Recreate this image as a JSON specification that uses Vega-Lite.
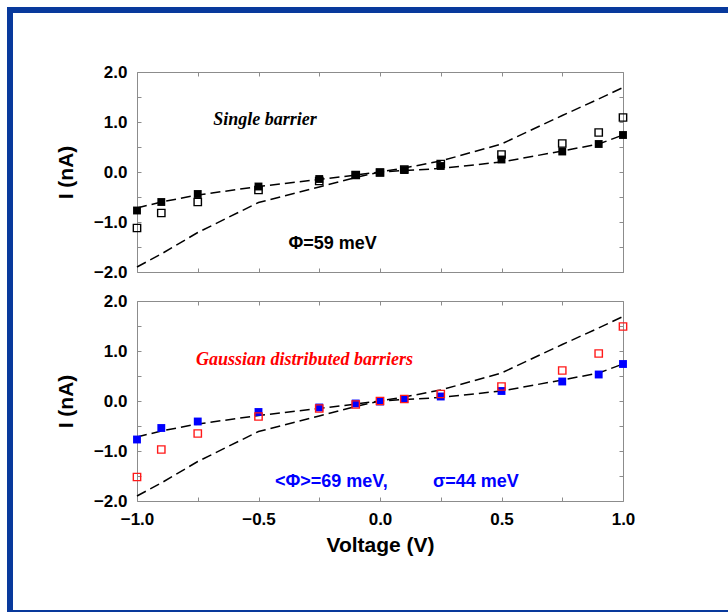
{
  "$schema": "https://vega.github.io/schema/vega-lite/v6.json",
  "padding": {"left": 7, "top": 7, "right": 0, "bottom": 0},
  "autosize": {"type": "pad"},
  "background": "white",
  "spacing": 0,
  "config": {
    "view": {"stroke": "#8c8c8c", "strokeWidth": 1},
    "axis": {
      "labelFont": "Liberation Sans", "labelFontWeight": "bold", "labelFontSize": 17, "labelColor": "black",
      "titleFont": "Liberation Sans", "titleFontWeight": "bold", "titleFontSize": 21, "titleColor": "black",
      "tickColor": "#8c8c8c", "tickWidth": 1, "domain": false, "grid": false, "labelOverlap": false, "labelFlush": false
    }
  },
  "datasets": {
    "curves": [
      {"curve": "A", "v": -1, "I": -0.72}, {"curve": "A", "v": -0.9, "I": -0.6}, {"curve": "A", "v": -0.75, "I": -0.46},
      {"curve": "A", "v": -0.5, "I": -0.29}, {"curve": "A", "v": -0.25, "I": -0.15}, {"curve": "A", "v": -0.1, "I": -0.06},
      {"curve": "A", "v": 0, "I": 0}, {"curve": "A", "v": 0.1, "I": 0.03}, {"curve": "A", "v": 0.25, "I": 0.07},
      {"curve": "A", "v": 0.5, "I": 0.2}, {"curve": "A", "v": 0.75, "I": 0.42}, {"curve": "A", "v": 0.9, "I": 0.56},
      {"curve": "A", "v": 1, "I": 0.74},
      {"curve": "B", "v": -1, "I": -1.9}, {"curve": "B", "v": -0.9, "I": -1.64}, {"curve": "B", "v": -0.75, "I": -1.21},
      {"curve": "B", "v": -0.5, "I": -0.61}, {"curve": "B", "v": -0.25, "I": -0.3}, {"curve": "B", "v": -0.1, "I": -0.11},
      {"curve": "B", "v": 0, "I": 0}, {"curve": "B", "v": 0.1, "I": 0.08}, {"curve": "B", "v": 0.25, "I": 0.22},
      {"curve": "B", "v": 0.5, "I": 0.56}, {"curve": "B", "v": 0.75, "I": 1.13}, {"curve": "B", "v": 0.9, "I": 1.46},
      {"curve": "B", "v": 1, "I": 1.69}
    ],
    "pts": [
      {"panel": "top", "kind": "filled", "v": -1, "I": -0.77}, {"panel": "top", "kind": "filled", "v": -0.9, "I": -0.6},
      {"panel": "top", "kind": "filled", "v": -0.75, "I": -0.44}, {"panel": "top", "kind": "filled", "v": -0.5, "I": -0.29},
      {"panel": "top", "kind": "filled", "v": -0.25, "I": -0.14}, {"panel": "top", "kind": "filled", "v": -0.1, "I": -0.06},
      {"panel": "top", "kind": "filled", "v": 0, "I": -0.01}, {"panel": "top", "kind": "filled", "v": 0.1, "I": 0.04},
      {"panel": "top", "kind": "filled", "v": 0.25, "I": 0.12}, {"panel": "top", "kind": "filled", "v": 0.5, "I": 0.25},
      {"panel": "top", "kind": "filled", "v": 0.75, "I": 0.41}, {"panel": "top", "kind": "filled", "v": 0.9, "I": 0.56},
      {"panel": "top", "kind": "filled", "v": 1, "I": 0.74},
      {"panel": "top", "kind": "open", "v": -1, "I": -1.12}, {"panel": "top", "kind": "open", "v": -0.9, "I": -0.82},
      {"panel": "top", "kind": "open", "v": -0.75, "I": -0.6}, {"panel": "top", "kind": "open", "v": -0.5, "I": -0.36},
      {"panel": "top", "kind": "open", "v": -0.25, "I": -0.18}, {"panel": "top", "kind": "open", "v": -0.1, "I": -0.06},
      {"panel": "top", "kind": "open", "v": 0, "I": -0.01}, {"panel": "top", "kind": "open", "v": 0.1, "I": 0.05},
      {"panel": "top", "kind": "open", "v": 0.25, "I": 0.16}, {"panel": "top", "kind": "open", "v": 0.5, "I": 0.35},
      {"panel": "top", "kind": "open", "v": 0.75, "I": 0.57}, {"panel": "top", "kind": "open", "v": 0.9, "I": 0.79},
      {"panel": "top", "kind": "open", "v": 1, "I": 1.09},
      {"panel": "bottom", "kind": "filled", "v": -1, "I": -0.77}, {"panel": "bottom", "kind": "filled", "v": -0.9, "I": -0.54},
      {"panel": "bottom", "kind": "filled", "v": -0.75, "I": -0.41}, {"panel": "bottom", "kind": "filled", "v": -0.5, "I": -0.22},
      {"panel": "bottom", "kind": "filled", "v": -0.25, "I": -0.13}, {"panel": "bottom", "kind": "filled", "v": -0.1, "I": -0.05},
      {"panel": "bottom", "kind": "filled", "v": 0, "I": -0.01}, {"panel": "bottom", "kind": "filled", "v": 0.1, "I": 0.04},
      {"panel": "bottom", "kind": "filled", "v": 0.25, "I": 0.09}, {"panel": "bottom", "kind": "filled", "v": 0.5, "I": 0.2},
      {"panel": "bottom", "kind": "filled", "v": 0.75, "I": 0.39}, {"panel": "bottom", "kind": "filled", "v": 0.9, "I": 0.53},
      {"panel": "bottom", "kind": "filled", "v": 1, "I": 0.74},
      {"panel": "bottom", "kind": "open", "v": -1, "I": -1.52}, {"panel": "bottom", "kind": "open", "v": -0.9, "I": -0.97},
      {"panel": "bottom", "kind": "open", "v": -0.75, "I": -0.65}, {"panel": "bottom", "kind": "open", "v": -0.5, "I": -0.31},
      {"panel": "bottom", "kind": "open", "v": -0.25, "I": -0.15}, {"panel": "bottom", "kind": "open", "v": -0.1, "I": -0.07},
      {"panel": "bottom", "kind": "open", "v": 0, "I": 0}, {"panel": "bottom", "kind": "open", "v": 0.1, "I": 0.04},
      {"panel": "bottom", "kind": "open", "v": 0.25, "I": 0.14}, {"panel": "bottom", "kind": "open", "v": 0.5, "I": 0.29},
      {"panel": "bottom", "kind": "open", "v": 0.75, "I": 0.61}, {"panel": "bottom", "kind": "open", "v": 0.9, "I": 0.95},
      {"panel": "bottom", "kind": "open", "v": 1, "I": 1.49}
    ],
    "notes": [
      {"panel": "top", "style": "serif", "text": "Single barrier", "v": -0.686, "I": 0.946},
      {"panel": "top", "style": "sans", "text": "Φ=59 meV", "v": -0.377, "I": -1.54},
      {"panel": "bottom", "style": "serif", "text": "Gaussian distributed barriers", "v": -0.757, "I": 0.726},
      {"panel": "bottom", "style": "sans", "text": "<Φ>=69 meV,", "v": -0.432, "I": -1.72},
      {"panel": "bottom", "style": "sans", "text": "σ=44 meV", "v": 0.218, "I": -1.72}
    ]
  },
  "vconcat": [
    {"width": 721, "height": 6, "view": {"fill": "#08399c", "stroke": null}, "data": {"values": []}, "mark": {"type": "rule"}, "encoding": {}},
    {
      "spacing": 41,
      "hconcat": [
        {"width": 6, "height": 597, "view": {"fill": "#08399c", "stroke": null}, "data": {"values": []}, "mark": {"type": "rule"}, "encoding": {}},
        {
          "spacing": 48,
          "vconcat": [
            {"width": 486, "height": 1, "view": {"stroke": null}, "data": {"values": []}, "mark": {"type": "rule"}, "encoding": {}},
            {
              "spacing": 10,
              "vconcat": [
                {
                  "width": 486, "height": 200,
                  "resolve": {"axis": {"x": "independent", "y": "independent"}},
                  "layer": [
                    {
                      "data": {"name": "curves"},
                      "mark": {"type": "line", "color": "black", "strokeDash": [10, 5], "strokeWidth": 1.5},
                      "encoding": {
                        "x": {"field": "v", "type": "quantitative", "scale": {"domain": [-1, 1], "nice": false, "zero": false},
                          "axis": {"orient": "bottom", "values": [-1, -0.75, -0.5, -0.25, 0, 0.25, 0.5, 0.75, 1], "labels": false, "title": null, "tickSize": -4}},
                        "y": {"field": "I", "type": "quantitative", "scale": {"domain": [-2, 2], "nice": false, "zero": false},
                          "axis": {"orient": "left", "values": [-2, -1.5, -1, -0.5, 0, 0.5, 1, 1.5, 2], "format": ".1f", "labelExpr": "datum.value % 1 == 0 ? datum.label : ''", "tickSize": -4, "labelPadding": 14, "title": "I (nA)", "titlePadding": 17}},
                        "detail": {"field": "curve", "type": "nominal"}
                      }
                    },
                    {
                      "data": {"name": "pts"},
                      "transform": [{"filter": "datum.panel == 'top' && datum.kind == 'open'"}],
                      "mark": {"type": "point", "shape": "square", "filled": false, "color": "black", "size": 54, "strokeWidth": 1.4, "opacity": 1},
                      "encoding": {
                        "x": {"field": "v", "type": "quantitative", "axis": {"orient": "top", "values": [-1, -0.75, -0.5, -0.25, 0, 0.25, 0.5, 0.75, 1], "labels": false, "title": null, "tickSize": -4}},
                        "y": {"field": "I", "type": "quantitative", "axis": {"orient": "right", "values": [-2, -1.5, -1, -0.5, 0, 0.5, 1, 1.5, 2], "labels": false, "title": null, "tickSize": -4}}
                      }
                    },
                    {
                      "data": {"name": "pts"},
                      "transform": [{"filter": "datum.panel == 'top' && datum.kind == 'filled'"}],
                      "mark": {"type": "point", "shape": "square", "filled": true, "color": "black", "size": 62, "opacity": 1},
                      "encoding": {
                        "x": {"field": "v", "type": "quantitative", "axis": null},
                        "y": {"field": "I", "type": "quantitative", "axis": null}
                      }
                    },
                    {
                      "data": {"name": "notes"},
                      "transform": [{"filter": "datum.panel == 'top' && datum.style == 'serif'"}],
                      "mark": {"type": "text", "align": "left", "baseline": "alphabetic", "font": "Liberation Serif", "fontStyle": "italic", "fontWeight": "bold", "fontSize": 18, "color": "black"},
                      "encoding": {
                        "x": {"field": "v", "type": "quantitative", "axis": null},
                        "y": {"field": "I", "type": "quantitative", "axis": null},
                        "text": {"field": "text"}
                      }
                    },
                    {
                      "data": {"name": "notes"},
                      "transform": [{"filter": "datum.panel == 'top' && datum.style == 'sans'"}],
                      "mark": {"type": "text", "align": "left", "baseline": "alphabetic", "font": "Liberation Sans", "fontWeight": "bold", "fontSize": 18, "color": "black"},
                      "encoding": {
                        "x": {"field": "v", "type": "quantitative", "axis": null},
                        "y": {"field": "I", "type": "quantitative", "axis": null},
                        "text": {"field": "text"}
                      }
                    }
                  ]
                },
                {
                  "width": 486, "height": 200,
                  "resolve": {"axis": {"x": "independent", "y": "independent"}},
                  "layer": [
                    {
                      "data": {"name": "curves"},
                      "mark": {"type": "line", "color": "black", "strokeDash": [10, 5], "strokeWidth": 1.5},
                      "encoding": {
                        "x": {"field": "v", "type": "quantitative", "scale": {"domain": [-1, 1], "nice": false, "zero": false},
                          "axis": {"orient": "bottom", "values": [-1, -0.75, -0.5, -0.25, 0, 0.25, 0.5, 0.75, 1], "format": ".1f", "labelExpr": "(datum.value * 2) % 1 == 0 ? datum.label : ''", "tickSize": -4, "labelPadding": 14, "title": "Voltage (V)", "titlePadding": 7}},
                        "y": {"field": "I", "type": "quantitative", "scale": {"domain": [-2, 2], "nice": false, "zero": false},
                          "axis": {"orient": "left", "values": [-2, -1.5, -1, -0.5, 0, 0.5, 1, 1.5, 2], "format": ".1f", "labelExpr": "datum.value % 1 == 0 ? datum.label : ''", "tickSize": -4, "labelPadding": 14, "title": "I (nA)", "titlePadding": 17}},
                        "detail": {"field": "curve", "type": "nominal"}
                      }
                    },
                    {
                      "data": {"name": "pts"},
                      "transform": [{"filter": "datum.panel == 'bottom' && datum.kind == 'filled'"}],
                      "mark": {"type": "point", "shape": "square", "filled": true, "color": "#0000ff", "size": 62, "opacity": 1},
                      "encoding": {
                        "x": {"field": "v", "type": "quantitative", "axis": {"orient": "top", "values": [-1, -0.75, -0.5, -0.25, 0, 0.25, 0.5, 0.75, 1], "labels": false, "title": null, "tickSize": -4}},
                        "y": {"field": "I", "type": "quantitative", "axis": {"orient": "right", "values": [-2, -1.5, -1, -0.5, 0, 0.5, 1, 1.5, 2], "labels": false, "title": null, "tickSize": -4}}
                      }
                    },
                    {
                      "data": {"name": "pts"},
                      "transform": [{"filter": "datum.panel == 'bottom' && datum.kind == 'open'"}],
                      "mark": {"type": "point", "shape": "square", "filled": false, "color": "#ff1a1a", "size": 54, "strokeWidth": 1.4, "opacity": 1},
                      "encoding": {
                        "x": {"field": "v", "type": "quantitative", "axis": null},
                        "y": {"field": "I", "type": "quantitative", "axis": null}
                      }
                    },
                    {
                      "data": {"name": "notes"},
                      "transform": [{"filter": "datum.panel == 'bottom' && datum.style == 'serif'"}],
                      "mark": {"type": "text", "align": "left", "baseline": "alphabetic", "font": "Liberation Serif", "fontStyle": "italic", "fontWeight": "bold", "fontSize": 18, "color": "#ff0000"},
                      "encoding": {
                        "x": {"field": "v", "type": "quantitative", "axis": null},
                        "y": {"field": "I", "type": "quantitative", "axis": null},
                        "text": {"field": "text"}
                      }
                    },
                    {
                      "data": {"name": "notes"},
                      "transform": [{"filter": "datum.panel == 'bottom' && datum.style == 'sans'"}],
                      "mark": {"type": "text", "align": "left", "baseline": "alphabetic", "font": "Liberation Sans", "fontWeight": "bold", "fontSize": 18, "color": "#0000ff"},
                      "encoding": {
                        "x": {"field": "v", "type": "quantitative", "axis": null},
                        "y": {"field": "I", "type": "quantitative", "axis": null},
                        "text": {"field": "text"}
                      }
                    }
                  ]
                }
              ]
            }
          ]
        }
      ]
    },
    {"width": 721, "height": 2, "view": {"fill": "#08399c", "stroke": null}, "data": {"values": []}, "mark": {"type": "rule"}, "encoding": {}}
  ]
}
